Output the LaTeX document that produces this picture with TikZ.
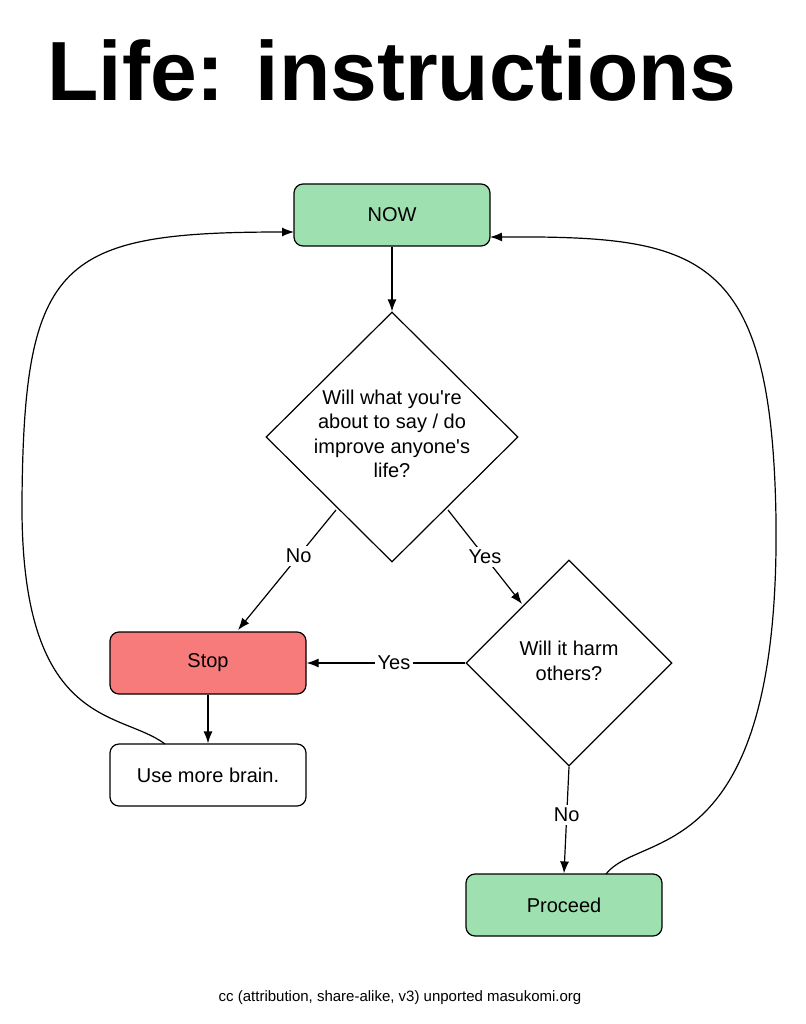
\documentclass[tikz,border=0pt]{standalone}
\usepackage{fontspec}
\setmainfont{Liberation Sans}
\usetikzlibrary{shapes.geometric,arrows.meta}
\definecolor{gr}{HTML}{9EE0B0}
\definecolor{rd}{HTML}{F87B7B}
\begin{document}
\begin{tikzpicture}[x=1pt,y=-1pt,line width=1.2pt,
  box/.style={draw,rounded corners=9pt,minimum width=196pt,minimum height=62pt,font=\fontsize{20}{24}\selectfont},
  dia/.style={draw,diamond,inner sep=0pt},
  lab/.style={fill=white,font=\fontsize{20}{24}\selectfont,inner sep=3pt},
  arr/.style={-{Latex[length=12pt,width=9pt]}}]
\useasboundingbox (0,0) rectangle (805,1024);
\node[font=\bfseries\fontsize{84}{90}\selectfont] (title) at (392,70) {Life: instructions};
\node[box,fill=gr] (now) at (392,215) {NOW};
\node[dia,minimum width=252pt,minimum height=250pt] (d1) at (392,437) {};
\node[align=center,font=\fontsize{20}{24.5}\selectfont] (d1t) at (392,434) {Will what you\textquotesingle re\\about to say / do\\improve anyone\textquotesingle s\\life?};
\node[box,fill=rd] (stop) at (208,663) {Stop};
\node[box,fill=white] (brain) at (208,775) {Use more brain.};
\node[dia,minimum width=206pt,minimum height=206pt] (d2) at (569,663) {};
\node[align=center,font=\fontsize{20}{25}\selectfont] (d2t) at (569,661) {Will it harm\\others?};
\node[box,fill=gr] (proc) at (564,905) {Proceed};
\node[font=\fontsize{15}{17}\selectfont] (foot) at (400,998) {cc (attribution, share-alike, v3) unported masukomi.org};
\coordinate (n1) at (336,510); \coordinate (n2) at (238,630);
\coordinate (y1) at (448,510); \coordinate (y2) at (522,604);
\draw[arr] (now.south) -- (d1.north);
\draw[arr] (n1) -- node[lab,pos=0.38]{No} (n2);
\draw[arr] (y1) -- node[lab,pos=0.5]{Yes} (y2);
\draw[arr] (d2.west) -- node[lab,pos=0.45]{Yes} (stop.east);
\draw[arr] (d2.south) -- node[lab,pos=0.45]{No} (proc.north);
\draw[arr] (stop.south) -- (brain.north);
\coordinate (bt) at (165,744); \coordinate (pt) at (606,874);
\draw[arr] (bt) .. controls (120,710) and (20,730) .. (22,500) .. controls (24,260) and (60,232) .. (294,232);
\draw[arr] (pt) .. controls (640,830) and (780,870) .. (776,520) .. controls (772,250) and (700,236) .. (490,237);
\end{tikzpicture}
\end{document}
